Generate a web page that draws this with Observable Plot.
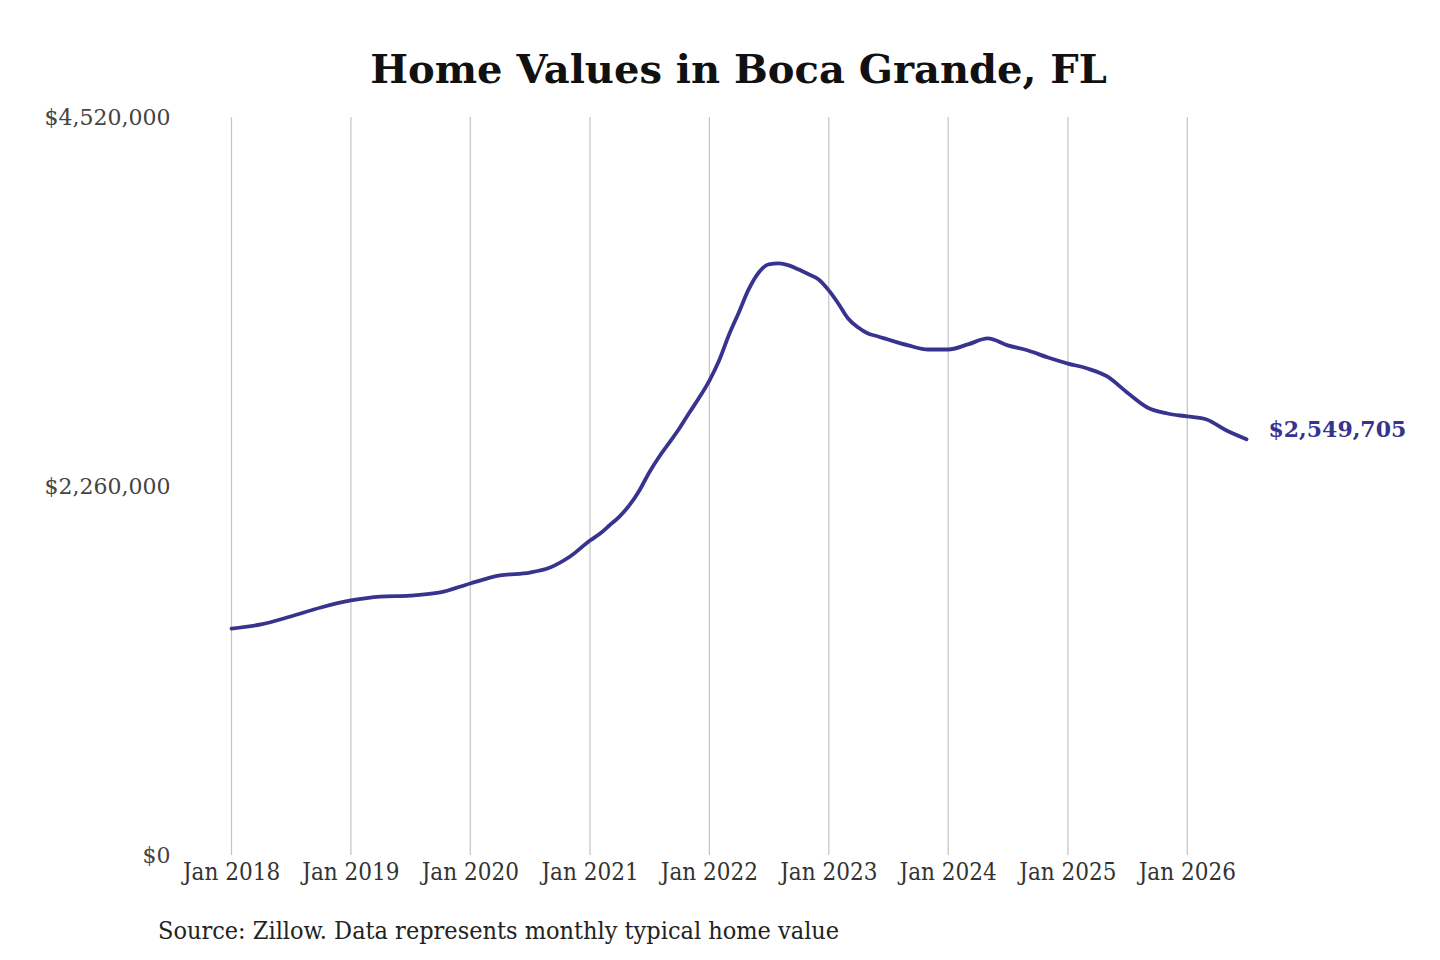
<!DOCTYPE html>
<html>
<head>
<meta charset="utf-8">
<script src="https://cdn.jsdelivr.net/npm/d3@7"></script>
<script src="https://cdn.jsdelivr.net/npm/@observablehq/plot@0.6"></script>
<style>
  html, body { margin: 0; padding: 0; background: #fff; }
  body { width: 1440px; height: 960px; position: relative; overflow: hidden; font-family: "DejaVu Serif", serif; }
  #title { position: absolute; left: 0; top: 49px; width: 1477px; text-align: center; font-size: 40px; line-height: 40px; font-weight: bold; color: #111; font-family: "DejaVu Serif", serif; }
  #chart { position: absolute; left: 0; top: 100px; }
  #source { position: absolute; left: 158px; top: 917px; font-size: 25px; line-height: 28px; color: #222; font-family: "DejaVu Serif Condensed", "DejaVu Serif", serif; font-stretch: condensed; }
</style>
</head>
<body>
<div id="title">Home Values in Boca Grande, FL</div>
<div id="chart"></div>
<div id="source">Source: Zillow. Data represents monthly typical home value</div>
<script>
const months = [
  "2018-01","2018-04","2018-07","2018-10","2019-01","2019-04","2019-07","2019-10",
  "2020-01","2020-04","2020-07","2020-09","2020-11",
  "2021-01","2021-02","2021-03","2021-04","2021-05","2021-06","2021-07","2021-08",
  "2021-09","2021-10","2021-11","2021-12",
  "2022-01","2022-02","2022-03","2022-04","2022-05","2022-06","2022-07","2022-08",
  "2022-09","2022-10","2022-11","2022-12","2023-01",
  "2023-02","2023-03","2023-04","2023-05","2023-06","2023-07","2023-09","2023-11",
  "2024-01","2024-03","2024-05","2024-07","2024-09","2024-11","2025-01","2025-03",
  "2025-05","2025-07","2025-09","2025-11","2026-01","2026-03","2026-05","2026-07"
];
const homeValues = [
  1390000,1415000,1464000,1519000,1562000,1586000,1592000,1611000,
  1666000,1715000,1733000,1764000,1831000,
  1929000,1972000,2021000,2076000,2144000,2236000,2346000,2444000,
  2530000,2615000,2713000,2805000,
  2909000,3038000,3185000,3326000,3467000,3571000,3620000,3626000,
  3614000,3589000,3559000,3528000,3461000,
  3375000,3289000,3234000,3197000,3179000,3160000,3124000,3099000,
  3099000,3130000,3167000,3124000,3093000,3050000,3013000,2983000,
  2934000,2836000,2744000,2707000,2689000,2670000,2603000,2549705
];
const xTickYears = ["2018","2019","2020","2021","2022","2023","2024","2025","2026"];
const yTicks = [0, 2260000, 4520000];
const lastLabel = "$2,549,705";

const parse = d3.utcParse("%Y-%m");
const data = months.map((m, i) => ({date: parse(m), value: homeValues[i]}));
const xTicks = xTickYears.map(y => parse(y + "-01"));
const last = data[data.length - 1];

const lineColor = "#37338f";
const condensed = "'DejaVu Serif Condensed', 'DejaVu Serif', serif";

const chart = Plot.plot({
  width: 1440,
  height: 800,
  marginTop: 17,
  marginBottom: 45,
  marginLeft: 231,
  marginRight: 194,
  style: { fontFamily: "'DejaVu Serif', serif", background: "#fff", overflow: "visible" },
  x: { type: "utc", domain: [parse("2018-01"), parse("2026-07")] },
  y: { domain: [0, 4520000] },
  marks: [
    Plot.ruleX(xTicks, { y1: 0, y2: 4520000, stroke: "#c4c4c4", strokeWidth: 1.2 }),
    Plot.axisX({
      ticks: xTicks, tickSize: 0, tickPadding: 7,
      tickFormat: d3.utcFormat("%b %Y"),
      fontSize: 24, fontFamily: condensed, fill: "#333", label: null
    }),
    Plot.axisY({
      ticks: yTicks, tickSize: 0, tickPadding: 61,
      tickFormat: d => "$" + d3.format(",")(d),
      fontSize: 22, fill: "#444", label: null
    }),
    Plot.line(data, {
      x: "date", y: "value", stroke: lineColor, strokeWidth: 3.8,
      curve: "monotone-x", strokeLinecap: "round", strokeLinejoin: "round"
    }),
    Plot.text([last], {
      x: "date", y: "value", text: () => lastLabel, dx: 22, dy: -9,
      textAnchor: "start", fontWeight: "bold", fontSize: 22, fill: lineColor
    })
  ]
});
document.getElementById("chart").appendChild(chart);
</script>
</body>
</html>
